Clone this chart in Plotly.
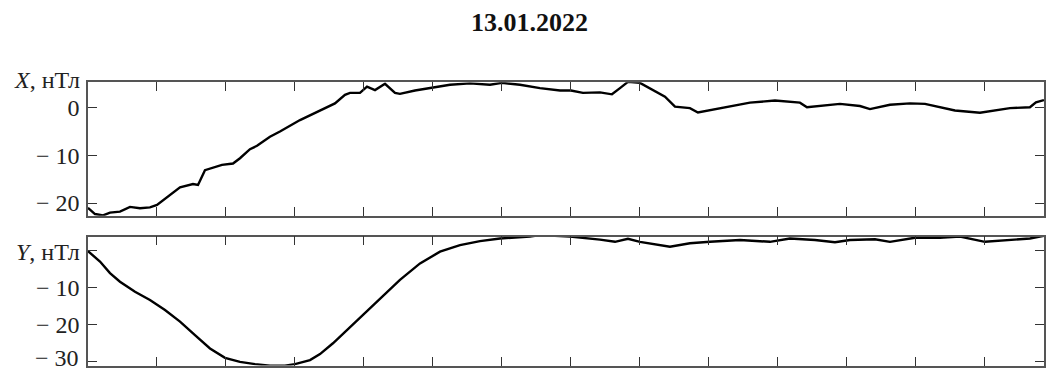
import plotly.graph_objects as go

# time axis in hours (ticks every hour, no labels)
t_x = [0.000, 0.102, 0.218, 0.319, 0.464, 0.609, 0.754, 0.899, 1.001, 1.190, 1.335, 1.523,
       1.596, 1.697, 1.799, 1.944, 2.104, 2.205, 2.350, 2.452, 2.640, 2.785, 3.076, 3.366,
       3.583, 3.728, 3.801, 3.946, 4.048, 4.164, 4.309, 4.454, 4.526, 4.744, 4.962, 5.252,
       5.542, 5.832, 6.006, 6.267, 6.557, 6.848, 7.007, 7.181, 7.428, 7.602, 7.718, 7.834,
       8.008, 8.153, 8.371, 8.516, 8.733, 8.849, 9.024, 9.314, 9.604, 9.967, 10.184, 10.329,
       10.431, 10.619, 10.910, 11.200, 11.345, 11.635, 11.925, 12.143, 12.360, 12.578, 12.941,
       13.158, 13.376, 13.666, 13.753, 13.869]
x_vals = [-21.0, -22.3, -22.6, -22.0, -21.8, -20.8, -21.1, -20.9, -20.4, -18.3, -16.7, -16.0,
          -16.2, -13.1, -12.7, -12.0, -11.7, -10.6, -8.7, -8.0, -6.1, -5.0, -2.6, -0.6,
          0.9, 2.7, 3.1, 3.1, 4.4, 3.7, 5.0, 3.1, 2.9, 3.6, 4.1, 4.8,
          5.1, 4.8, 5.2, 4.8, 4.1, 3.6, 3.6, 3.1, 3.2, 2.8, 4.1, 5.4,
          5.2, 4.1, 2.3, 0.2, -0.1, -1.0, -0.5, 0.2, 1.05, 1.5, 1.3, 1.05,
          0.1, 0.35, 0.8, 0.35, -0.3, 0.6, 0.9, 0.8, 0.1, -0.6, -1.05,
          -0.5, -0.1, 0.1, 1.1, 1.6]

t_y = [0.000, 0.174, 0.319, 0.464, 0.682, 0.899, 1.117, 1.335, 1.552, 1.770, 1.988, 2.205,
       2.423, 2.640, 2.858, 3.003, 3.221, 3.366, 3.554, 3.758, 3.946, 4.135, 4.381, 4.526,
       4.817, 5.107, 5.397, 5.687, 5.977, 6.412, 6.557, 6.993, 7.428, 7.646, 7.834, 8.008,
       8.443, 8.733, 9.024, 9.459, 9.894, 10.184, 10.547, 10.837, 11.055, 11.417, 11.635,
       11.998, 12.360, 12.651, 13.013, 13.376, 13.666, 13.869]
y_vals = [-0.3, -3.1, -6.2, -8.5, -11.2, -13.4, -16.1, -19.2, -22.8, -26.4, -28.9, -30.0,
          -30.6, -31.0, -31.0, -30.6, -29.5, -27.9, -25.0, -21.4, -18.3, -14.9, -10.5, -8.0,
          -3.6, -0.45, 1.3, 2.4, 3.1, 3.6, 4.0, 3.6, 2.8, 2.2, 3.0, 2.2,
          0.9, 1.8, 2.2, 2.7, 2.2, 3.1, 2.7, 2.1, 2.7, 2.9, 2.2,
          3.3, 3.3, 3.6, 2.2, 2.7, 3.1, 3.8]

x_ticks = [0, -10, -20]
x_ticktext = ["0", "\u2212 10", "\u2212 20"]
y_ticks = [0, -10, -20, -30]
y_ticktext = ["", "\u2212 10", "\u2212 20", ""]
y_bottom_label = "\u2212 30"
time_ticks = list(range(0, 14))

title_text = "13.01.2022"
label_x = "<i>X</i>, нТл"
label_y = "<i>Y</i>, нТл"

W, H = 1046, 372
FONT = "Liberation Serif, Times New Roman, serif"
FS = 24

fig = go.Figure()
fig.add_trace(go.Scatter(x=t_x, y=x_vals, mode="lines", line=dict(color="black", width=2.4),
                         xaxis="x", yaxis="y", showlegend=False))
fig.add_trace(go.Scatter(x=t_y, y=y_vals, mode="lines", line=dict(color="black", width=2.4),
                         xaxis="x2", yaxis="y2", showlegend=False))

def px_to_paper_y(py):
    return 1 - py / H

xcommon = dict(range=[0, 13.87], tickvals=time_ticks, showticklabels=False, ticks="inside",
               ticklen=9, tickwidth=1.3, tickcolor="#333", showline=True, linecolor="#555",
               linewidth=1.5, mirror="ticks", showgrid=False, zeroline=False, domain=[0, 1],
               automargin=False)
ycommon = dict(ticks="inside", ticklen=9, tickwidth=1.3, tickcolor="#333", showline=True,
               linecolor="#555", linewidth=1.5, mirror="ticks", showgrid=False, zeroline=False,
               tickfont=dict(family=FONT, size=FS, color="#222"), ticklabelstandoff=2,
               ticklabeloverflow="allow", automargin=False)

fig.update_layout(
    width=W, height=H,
    margin=dict(l=88, r=2, t=0, b=0, autoexpand=False),
    paper_bgcolor="white", plot_bgcolor="white",
    font=dict(family=FONT, size=FS, color="#222"),
    xaxis=dict(**xcommon, anchor="y"),
    xaxis2=dict(**xcommon, anchor="y2"),
    yaxis=dict(**ycommon, range=[-22.65, 5.32], tickvals=x_ticks, ticktext=x_ticktext,
               domain=[px_to_paper_y(215.7), px_to_paper_y(82.3)], anchor="x"),
    yaxis2=dict(**ycommon, range=[-30.96, 3.57], tickvals=y_ticks, ticktext=y_ticktext,
                domain=[px_to_paper_y(365.5), px_to_paper_y(236.7)], anchor="x2"),
    title=dict(text="<b>" + title_text + "</b>", x=529.5 / W, xanchor="center",
               y=1 - 22 / H, yanchor="middle", xref="container", yref="container",
               font=dict(family=FONT, size=26, color="#111")),
    annotations=[
        dict(text=label_x, xref="paper", yref="paper", x=(82 - 88) / 956, y=px_to_paper_y(80),
             xanchor="right", yanchor="middle", showarrow=False,
             font=dict(family=FONT, size=FS, color="#222")),
        dict(text=label_y, xref="paper", yref="paper", x=(82 - 88) / 956, y=px_to_paper_y(252),
             xanchor="right", yanchor="middle", showarrow=False,
             font=dict(family=FONT, size=FS, color="#222")),
        dict(text=y_bottom_label, xref="paper", yref="paper", x=(80 - 88) / 956,
             y=px_to_paper_y(371.5), xanchor="right", yanchor="bottom", showarrow=False,
             borderpad=0, font=dict(family=FONT, size=FS, color="#222")),
    ],
)

fig.write_html("out.html")
